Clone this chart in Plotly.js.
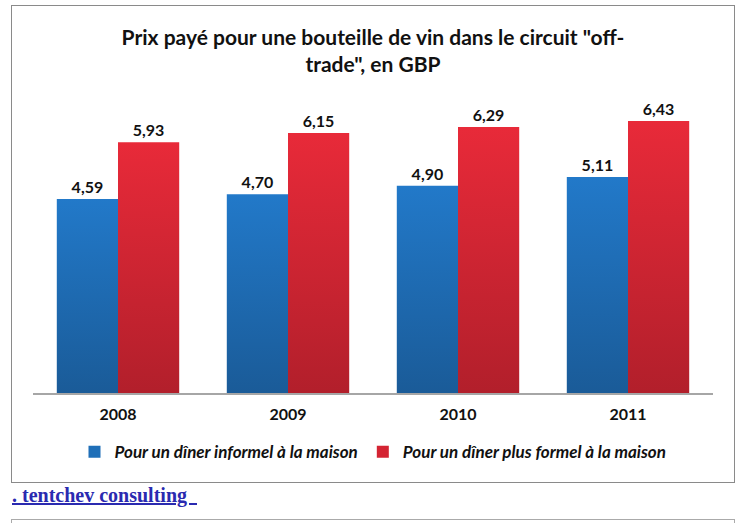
<!DOCTYPE html>
<html>
<head>
<meta charset="utf-8">
<script src="https://cdn.plot.ly/plotly-3.0.1.min.js"></script>
<style>
  html, body { margin: 0; padding: 0; background: #fff; }
  #box { position: absolute; left: 11px; top: 5px; width: 722px; height: 476px; border: 1px solid #8a8a8a; }
  #chart { width: 722px; height: 476px; }
  #link { position: absolute; left: 12px; top: 483px; font-family: "Liberation Serif", serif; font-weight: bold; font-size: 20px; line-height: 24px; color: #2a2ab0; text-decoration: underline; white-space: pre; }
  #box2 { position: absolute; left: 11px; top: 519px; width: 722px; height: 40px; border: 1px solid #aaaaaa; }
</style>
</head>
<body>
<div id="box"><div id="chart"></div></div>
<div id="link">. tentchev consulting  </div>
<div id="box2"></div>
<script>
const years = ["2008", "2009", "2010", "2011"];
const informel = [4.59, 4.70, 4.90, 5.11];
const formel = [5.93, 6.15, 6.29, 6.43];
const seriesNames = ["Pour un dîner informel à la maison", "Pour un dîner plus formel à la maison"];

const FONT = 'Lato, "DejaVu Sans Condensed", sans-serif';

const traces = [
  { type: 'bar', name: seriesNames[0], x: years, y: informel,
    marker: { color: '#1f6fb8' }, texttemplate: '%{y:.2f}', textposition: 'outside',
    textfont: { family: FONT, size: 16, color: '#111', weight: 'bold' }, cliponaxis: false, hoverinfo: 'none' },
  { type: 'bar', name: seriesNames[1], x: years, y: formel,
    marker: { color: '#d42433' }, texttemplate: '%{y:.2f}', textposition: 'outside',
    textfont: { family: FONT, size: 16, color: '#111', weight: 'bold' }, cliponaxis: false, hoverinfo: 'none' }
];

const layout = {
  width: 722, height: 476,
  margin: { l: 21, r: 21, t: 91, b: 87 },
  paper_bgcolor: '#fff', plot_bgcolor: '#fff',
  separators: ',.',
  font: { family: FONT, color: '#111' },
  title: { text: 'Prix payé pour une bouteille de vin dans le circuit "off-<br>trade", en GBP',
    font: { family: FONT, size: 21, weight: 'bold', color: '#111' },
    x: 0.5, xanchor: 'center', yref: 'container', y: 0.919, yanchor: 'top' },
  barmode: 'group', bargap: 0.28, bargroupgap: 0,
  xaxis: { showline: true, linecolor: '#a6a6a6', linewidth: 1.5, ticks: '', showgrid: false,
    tickfont: { family: FONT, size: 16, weight: 'bold', color: '#111' }, ticklabelstandoff: 6, fixedrange: true },
  yaxis: { range: [0, 7], visible: false, showgrid: false, zeroline: false, fixedrange: true },
  showlegend: true,
  legend: { orientation: 'h', x: 0.5, xanchor: 'center', y: -0.2, yanchor: 'middle',
    font: { family: FONT, size: 17, style: 'italic', weight: 'bold', color: '#111' }, itemwidth: 30, tracegroupgap: 0 }
};

Plotly.newPlot('chart', traces, layout, { displayModeBar: false, staticPlot: true }).then(gd => {
  const svg = gd.querySelector('svg.main-svg');
  const ns = 'http://www.w3.org/2000/svg';
  let defs = svg.querySelector('defs');
  function grad(id, top, bottom) {
    const g = document.createElementNS(ns, 'linearGradient');
    g.setAttribute('id', id);
    g.setAttribute('x1', '0'); g.setAttribute('y1', '0'); g.setAttribute('x2', '0'); g.setAttribute('y2', '1');
    [[0, top], [1, bottom]].forEach(([o, c]) => {
      const s = document.createElementNS(ns, 'stop');
      s.setAttribute('offset', o); s.setAttribute('stop-color', c);
      g.appendChild(s);
    });
    defs.appendChild(g);
  }
  grad('gBlue', '#2279c9', '#1a5b98');
  grad('gRed', '#e82a39', '#b21f2b');
  const bars = gd.querySelectorAll('.barlayer .trace.bars');
  bars.forEach((t, i) => {
    t.querySelectorAll('.point path').forEach(p => { p.style.fill = i === 0 ? 'url(#gBlue)' : 'url(#gRed)'; });
  });
});
</script>
</body>
</html>
